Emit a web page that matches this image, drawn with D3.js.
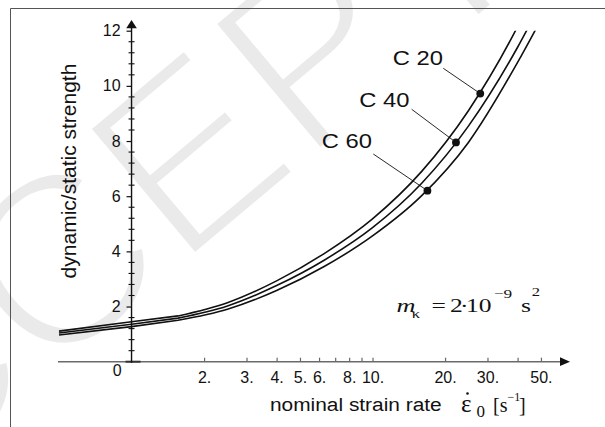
<!DOCTYPE html>
<html><head><meta charset="utf-8">
<script src="https://cdn.jsdelivr.net/npm/d3@7"></script>
<style>html,body{margin:0;padding:0;background:#fff}</style>
</head><body>
<svg id="chart" width="605" height="427"></svg>
<script>
// Strength increase factor versus nominal strain rate for three concrete grades
const strainRates = [0.5, 1, 1.56, 2.5, 4, 6.3, 10, 16, 25, 40, 50];
const c20 = [1.11, 1.45, 1.66, 2.14, 2.93, 3.92, 5.18, 6.9, 9.1, 12.15, 13.9];
const c40 = [1.04, 1.36, 1.58, 2.02, 2.76, 3.68, 4.86, 6.47, 8.54, 11.4, 13.0];
const c60 = [0.97, 1.27, 1.50, 1.90, 2.58, 3.45, 4.56, 6.02, 7.95, 10.85, 12.4];
const seriesNames = ["C 20", "C 40", "C 60"];
const markerRates = [28, 22.2, 16.9];
const markerValues = [9.72, 7.95, 6.2];
const xTickValues = [2, 3, 4, 5, 6, 7, 8, 9, 10, 20, 30, 40, 50];
const xTickLabels = ["2.", "3.", "4.", "5.", "6.", "", "8.", "", "10.", "20.", "30.", "", "50."];
const yTickValues = [2, 4, 6, 8, 10, 12];
const yTickLabels = ["2", "4", "6", "8", "10", "12"];
// index of the transition point between the low-rate branch and the steep branch
const branchIndex = 2;

const svg = d3.select("#chart");
const sans = "'Liberation Sans', Arial, Helvetica, sans-serif";
const serif = "'Liberation Serif', 'Times New Roman', serif";

const x = d3.scaleLog().domain([0.5, 66]).range([59, 570]);
const y = d3.scaleLinear().domain([0, 12]).range([361.7, 30.7]);
const x0 = x(1);

// faint diagonal watermark (white outline thins the letter strokes)
svg.append("text")
  .attr("transform", "translate(-217,603) rotate(-40)")
  .attr("font-family", sans).attr("font-size", 245)
  .attr("fill", "#eaeaea").attr("stroke", "#fff").attr("stroke-width", 8)
  .text("ACCEPTED");

// page frame
svg.append("path").attr("d", "M10.5,427 V8.5 H605")
  .attr("fill", "none").attr("stroke", "#555").attr("stroke-width", 1);

// x axis: tick marks point up, labels underneath
const xAxis = d3.axisBottom(x).tickValues(xTickValues)
  .tickSize(-4).tickPadding(10)
  .tickFormat((d, i) => xTickLabels[i]);
const gx = svg.append("g").attr("transform", `translate(0,${y(0)})`).call(xAxis);
gx.select(".domain").remove();
gx.selectAll(".tick line").attr("stroke", "#666").attr("stroke-width", 1.2);
gx.selectAll(".tick text").attr("font-family", sans).attr("font-size", 16).attr("fill", "#111");
svg.append("line").attr("x1", 58).attr("x2", 562).attr("y1", y(0)).attr("y2", y(0))
  .attr("stroke", "#6a6a6a").attr("stroke-width", 1.4);
svg.append("line").attr("x1", x0 - 6).attr("x2", x0 + 9).attr("y1", y(0)).attr("y2", y(0))
  .attr("stroke", "#333").attr("stroke-width", 2);
svg.append("path").attr("d", `M560,${y(0) - 4.4} L570,${y(0)} L560,${y(0) + 4.4} Z`).attr("fill", "#111");

// origin label
svg.append("text").attr("x", x0 - 10).attr("y", 376).attr("text-anchor", "end")
  .attr("font-family", sans).attr("font-size", 16).attr("fill", "#111").text("0");

// y axis with labelled major ticks and 0.4-step minor ticks
const yAxis = d3.axisLeft(y).tickValues(yTickValues).tickSize(5).tickPadding(6)
  .tickFormat((d, i) => yTickLabels[i]);
const gy = svg.append("g").attr("transform", `translate(${x0},0)`).call(yAxis);
gy.select(".domain").remove();
gy.selectAll(".tick line").attr("stroke", "#111").attr("stroke-width", 1.2);
gy.selectAll(".tick text").attr("font-family", sans).attr("font-size", 16).attr("fill", "#111");
const minor = d3.range(0.4, 12, 0.4).filter(v => Math.abs(v / 2 - Math.round(v / 2)) > 0.01);
svg.append("g").selectAll("line").data(minor).join("line")
  .attr("x1", x0 - 3).attr("x2", x0 + 3)
  .attr("y1", d => y(d)).attr("y2", d => y(d))
  .attr("stroke", "#111").attr("stroke-width", 1.1);
svg.append("line").attr("x1", x0).attr("x2", x0).attr("y1", y(0) + 1).attr("y2", 27)
  .attr("stroke", "#111").attr("stroke-width", 1.4);
svg.append("path").attr("d", `M${x0 - 5.3},28.3 L${x0},20 L${x0 + 5.3},28.3 Z`).attr("fill", "#111");

// curves: straight low-rate branch, smooth steep branch, clipped at the top of the range
svg.append("clipPath").attr("id", "plotClip")
  .append("rect").attr("x", 40).attr("y", y(12)).attr("width", 560).attr("height", y(0) - y(12));
const lowLine = d3.line().x(d => x(d[0])).y(d => y(d[1])).curve(d3.curveLinear);
const highLine = d3.line().x(d => x(d[0])).y(d => y(d[1])).curve(d3.curveMonotoneX);
const series = [c20, c40, c60];
const curves = svg.append("g").attr("clip-path", "url(#plotClip)");
series.forEach(vals => {
  const pts = strainRates.map((r, i) => [r, vals[i]]);
  const d = lowLine(pts.slice(0, branchIndex + 1)) + highLine(pts.slice(branchIndex)).replace(/^M/, "L");
  curves.append("path").attr("d", d)
    .attr("fill", "none").attr("stroke", "#111").attr("stroke-width", 1.6)
    .attr("stroke-linejoin", "round");
});

// markers with leader lines to their grade labels
const labelPos = [[392.7, 65], [359.3, 107.3], [321.7, 148.3]];
const leaderStart = [[443.3, 68.3], [411.7, 109.3], [373.3, 154]];
seriesNames.forEach((name, i) => {
  const mx = x(markerRates[i]), my = y(markerValues[i]);
  svg.append("line").attr("x1", leaderStart[i][0]).attr("y1", leaderStart[i][1])
    .attr("x2", mx).attr("y2", my).attr("stroke", "#111").attr("stroke-width", 0.9);
  svg.append("circle").attr("cx", mx).attr("cy", my).attr("r", 3.9).attr("fill", "#111");
  svg.append("g").attr("transform", `translate(${labelPos[i][0]},${labelPos[i][1]}) scale(1.16,1)`)
    .append("text").attr("font-family", sans).attr("font-size", 20.5).attr("fill", "#111").text(name);
});

// axis titles
svg.append("g").attr("transform", "translate(270,411) scale(1.16,1)")
  .append("text").attr("font-family", sans).attr("font-size", 18).attr("fill", "#111")
  .text("nominal strain rate");
svg.append("text").attr("transform", "translate(76,171) rotate(-90)")
  .attr("text-anchor", "middle").attr("font-family", sans).attr("font-size", 21).attr("fill", "#111")
  .text("dynamic/static strength");

const unit = svg.append("g").attr("font-family", serif).attr("fill", "#111");
unit.append("text").attr("x", 461).attr("y", 411.7).attr("font-size", 25).text("ε");
unit.append("circle").attr("cx", 467.5).attr("cy", 393.5).attr("r", 1.3).attr("fill", "#111");
unit.append("text").attr("x", 476.5).attr("y", 416.7).attr("font-size", 17).text("0");
unit.append("text").attr("x", 493).attr("y", 411.7).attr("font-size", 20).text("[s");
unit.append("text").attr("x", 507.5).attr("y", 401).attr("font-size", 12).text("−1");
unit.append("text").attr("x", 519).attr("y", 411.7).attr("font-size", 20).text("]");

// model parameter note, set in a horizontally widened serif
const note = svg.append("g").attr("transform", "translate(396.5,311.7) scale(1.38,1)")
  .attr("font-family", serif).attr("fill", "#111");
note.append("text").attr("x", 0).attr("y", 0).attr("font-size", 19).attr("font-style", "italic").text("m");
note.append("text").attr("x", 11).attr("y", 6.5).attr("font-size", 12).text("κ");
note.append("text").attr("x", 25.3).attr("y", 0).attr("font-size", 18.5).text("=");
note.append("text").attr("x", 38.8).attr("y", 0).attr("font-size", 18.5).text("2");
note.append("text").attr("x", 46).attr("y", 0).attr("font-size", 18.5).text("·");
note.append("text").attr("x", 50.4).attr("y", 0).attr("font-size", 18.5).text("10");
note.append("text").attr("x", 70.5).attr("y", -13.5).attr("font-size", 12.5).text("−9");
note.append("text").attr("x", 90.2).attr("y", 0).attr("font-size", 18.5).text("s");
note.append("text").attr("x", 98).attr("y", -15.5).attr("font-size", 12).text("2");
</script>
</body></html>
